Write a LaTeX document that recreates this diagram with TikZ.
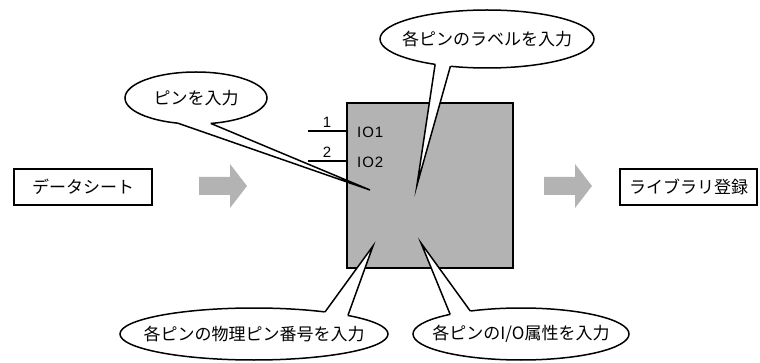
\documentclass[tikz,border=0pt]{standalone}
\usepackage{fontspec}
\setmainfont{Noto Sans CJK JP}
\newfontfamily\latinfont[LetterSpace=6]{Liberation Sans}
\usetikzlibrary{calc}
\definecolor{boxgray}{RGB}{179,179,179}
\newcommand\mycallout[8]{%
  \coordinate (#1c) at #2;
  \coordinate (#1t) at #7;
  \path[draw=black, fill=white, line width=1.5pt] (#1c) ellipse [x radius=#3, y radius=#4];
  \fill[white] ($(#1c)+(#5:#3 and #4)$) -- (#1t) -- ($(#1c)+(#6:#3 and #4)$)
     -- ($(#1c)+(#6:{#3-3} and {#4-3})$) -- ($(#1c)+(#5:{#3-3} and {#4-3})$) -- cycle;
  \draw[line width=1.5pt, line join=miter, miter limit=30] ($(#1c)+(#5:#3 and #4)$) -- (#1t) -- ($(#1c)+(#6:#3 and #4)$);
  \node[jtext] (#1) at (#1c) {#8};
}
\tikzset{
  jtext/.style={font=\fontsize{17}{20}\selectfont, inner sep=0pt},
  ltext/.style={font=\latinfont\fontsize{15}{18}\selectfont, inner sep=0pt},
  framebox/.style={draw=black, line width=2pt, fill=white, minimum height=36pt, inner sep=0pt, font=\fontsize{17}{20}\selectfont},
  bigarrow/.style={fill=boxgray},
  pinline/.style={line width=1.2pt}
}
\begin{document}
\begin{tikzpicture}[x=1pt,y=-1pt]
\useasboundingbox (0,0) rectangle (760,363);
% side boxes
\node[framebox, minimum width=138pt] (ds) at (83,187) {データシート};
\node[framebox, minimum width=137pt] (lib) at (688.5,187) {ライブラリ登録};
% gray arrows
\fill[bigarrow] (199,177) -- (230,177) -- (230,164) -- (247,186) -- (230,208) -- (230,195) -- (199,195) -- cycle;
\fill[bigarrow] (544,177) -- (575,177) -- (575,164) -- (592,186) -- (575,208) -- (575,195) -- (544,195) -- cycle;
% main component
\node[draw=black, line width=2pt, fill=boxgray, minimum width=166pt, minimum height=165pt, inner sep=0pt] (chip) at (430,185.5) {};
\coordinate (p1) at (308,131);
\coordinate (p2) at (308,161);
\draw[pinline] (p1) -- (p1 -| chip.west);
\draw[pinline] (p2) -- (p2 -| chip.west);
\node[ltext] (n1) at (327,122) {1};
\node[ltext] (n2) at (327,152) {2};
\node[ltext, anchor=west] (io1) at (357,132) {IO1};
\node[ltext, anchor=west] (io2) at (357,162) {IO2};
% callouts
\mycallout{cpin}{(196,98)}{71}{26}{105}{78}{(370,190)}{ピンを入力}
\mycallout{clab}{(487,39)}{107}{29}{119}{110}{(417,185)}{各ピンのラベルを入力}
\mycallout{cphy}{(254,334)}{134}{26}{-58}{-45.5}{(373,246)}{各ピンの物理ピン番号を入力}
\mycallout{cio}{(521,334)}{108}{26}{-131}{-118}{(421,243)}{各ピンのI/O属性を入力}
\end{tikzpicture}
\end{document}
